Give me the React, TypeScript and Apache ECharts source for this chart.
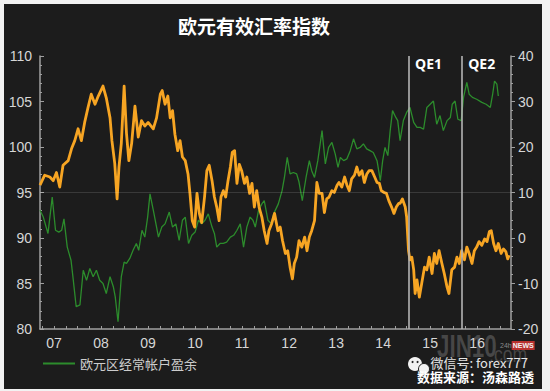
import React, { useEffect, useRef } from 'react';
import * as echarts from 'echarts';

// ---- data ----
const yearLabels = ['07', '08', '09', '10', '11', '12', '13', '14', '15', '16'];
const yearLabelPositions = [2007.5, 2008.5, 2009.5, 2010.5, 2011.5, 2012.5, 2013.5, 2014.5, 2015.5, 2016.5];
const quarterTickPositions: number[] = [];
for (let y = 2007.25; y <= 2017.01; y += 0.25) quarterTickPositions.push(Math.round(y * 100) / 100);

const seriesNames = ['欧元有效汇率指数', '欧元区经常帐户盈余'];

// Euro effective exchange rate index (left axis)
const eurIndex: [number, number][] = [
  [2007.20, 95.8], [2007.30, 96.9], [2007.41, 96.7], [2007.48, 96.3], [2007.55, 97.2], [2007.62, 95.6], [2007.69, 98.0], [2007.80, 98.5], [2007.87, 99.8], [2007.94, 100.7],
  [2008.01, 102.0], [2008.08, 100.7], [2008.15, 102.7], [2008.22, 104.3], [2008.29, 105.8], [2008.37, 104.7], [2008.44, 105.6], [2008.54, 106.7], [2008.61, 105.4], [2008.69, 103.2], [2008.73, 100.7], [2008.79, 98.2], [2008.84, 94.3], [2008.88, 97.8], [2008.93, 100.4], [2008.99, 106.7],
  [2009.04, 101.5], [2009.09, 98.5], [2009.15, 100.4], [2009.22, 104.5], [2009.29, 101.1], [2009.36, 102.9], [2009.43, 102.3], [2009.50, 102.7], [2009.61, 102.0], [2009.68, 103.2], [2009.76, 105.8], [2009.80, 106.2], [2009.86, 104.7], [2009.92, 105.6], [2009.97, 103.2],
  [2010.02, 104.0], [2010.07, 101.4], [2010.13, 99.6], [2010.18, 100.7], [2010.23, 98.9], [2010.29, 98.5], [2010.35, 97.0], [2010.39, 94.9], [2010.44, 91.9], [2010.49, 91.2], [2010.54, 94.9], [2010.59, 92.7], [2010.64, 91.7], [2010.70, 94.5], [2010.75, 97.4], [2010.80, 98.0], [2010.86, 96.3], [2010.91, 94.5], [2010.96, 93.4],
  [2011.01, 91.9], [2011.05, 94.5], [2011.10, 95.2], [2011.15, 94.5], [2011.20, 96.3], [2011.25, 97.8], [2011.29, 99.4], [2011.34, 99.6], [2011.39, 96.0], [2011.44, 98.1], [2011.49, 97.4], [2011.55, 96.0], [2011.60, 96.7], [2011.66, 94.9], [2011.71, 96.0], [2011.76, 93.4], [2011.81, 95.2], [2011.86, 93.4], [2011.92, 92.3], [2011.97, 90.8],
  [2012.03, 89.4], [2012.07, 90.8], [2012.13, 91.6], [2012.19, 92.7], [2012.26, 90.8], [2012.31, 91.2], [2012.36, 89.7], [2012.42, 88.3], [2012.47, 88.6], [2012.52, 86.8], [2012.57, 85.5], [2012.61, 87.2], [2012.66, 87.9], [2012.71, 89.7], [2012.77, 89.0], [2012.83, 90.1], [2012.88, 88.6], [2012.93, 90.1], [2012.98, 90.8],
  [2013.04, 91.9], [2013.09, 96.1], [2013.14, 94.9], [2013.20, 94.9], [2013.25, 92.8], [2013.30, 94.3], [2013.35, 94.5], [2013.41, 95.2], [2013.46, 95.0], [2013.52, 95.8], [2013.56, 96.1], [2013.62, 95.6], [2013.68, 96.7], [2013.73, 95.8], [2013.78, 95.2], [2013.83, 96.5], [2013.89, 96.9], [2013.94, 97.8], [2013.99, 96.9],
  [2014.05, 97.4], [2014.10, 96.1], [2014.15, 97.0], [2014.20, 97.4], [2014.26, 97.4], [2014.32, 96.7], [2014.37, 96.1], [2014.42, 96.0], [2014.46, 95.2], [2014.52, 95.0], [2014.57, 94.9], [2014.62, 94.1], [2014.68, 93.4], [2014.73, 92.7], [2014.78, 93.4], [2014.83, 93.8], [2014.86, 93.8], [2014.91, 94.3], [2014.97, 93.4],
  [2015.00, 92.3], [2015.04, 88.6], [2015.07, 87.6], [2015.11, 87.9], [2015.15, 86.5], [2015.18, 83.9], [2015.22, 85.4], [2015.27, 83.5], [2015.32, 85.0], [2015.38, 86.8], [2015.43, 86.5], [2015.48, 87.9], [2015.54, 86.1], [2015.59, 88.3], [2015.64, 87.2], [2015.69, 88.6], [2015.75, 87.2], [2015.80, 86.1], [2015.86, 84.6], [2015.90, 83.9], [2015.96, 86.5],
  [2016.02, 86.8], [2016.07, 87.9], [2016.12, 87.2], [2016.17, 88.6], [2016.23, 87.6], [2016.28, 89.0], [2016.33, 88.3], [2016.39, 87.2], [2016.44, 88.6], [2016.49, 89.0], [2016.54, 89.6], [2016.60, 89.2], [2016.66, 89.9], [2016.71, 89.6], [2016.76, 90.7], [2016.80, 90.8], [2016.85, 89.4], [2016.90, 88.6], [2016.95, 89.4],
  [2017.01, 88.3], [2017.06, 88.8], [2017.11, 88.5], [2017.15, 87.7], [2017.18, 88.1],
];

// Euro area current account surplus (right axis)
const currentAccount: [number, number][] = [
  [2007.20, 6.1], [2007.27, 4.6], [2007.37, 1.0], [2007.46, 9.0], [2007.53, 1.7], [2007.60, 1.3], [2007.66, 1.7], [2007.71, 4.2], [2007.78, -2.0], [2007.86, -4.9], [2007.90, -8.5], [2007.97, -15.1],
  [2008.05, -14.7], [2008.12, -7.1], [2008.19, -9.3], [2008.26, -6.7], [2008.33, -8.5], [2008.40, -7.1], [2008.47, -9.3], [2008.54, -10.0], [2008.61, -12.2], [2008.69, -8.5], [2008.76, -10.7], [2008.80, -12.9], [2008.86, -18.4], [2008.93, -8.5], [2008.99, -5.3],
  [2009.04, -5.6], [2009.11, -4.5], [2009.18, -2.7], [2009.25, -1.2], [2009.30, -2.7], [2009.37, 1.7], [2009.43, 0.2], [2009.49, 4.6], [2009.54, 9.7], [2009.61, 6.1], [2009.68, 2.4], [2009.72, 0.2], [2009.79, 2.4], [2009.86, 3.1], [2009.95, 5.7],
  [2010.02, 2.4], [2010.09, 3.1], [2010.16, -0.5], [2010.23, 3.9], [2010.29, 4.6], [2010.36, -1.2], [2010.43, 0.6], [2010.50, 1.3], [2010.57, 3.9], [2010.64, 3.1], [2010.71, 3.9], [2010.78, 5.3], [2010.86, 2.4], [2010.91, 1.0], [2010.96, -2.0],
  [2011.03, -1.2], [2011.10, -1.2], [2011.17, -0.9], [2011.25, 0.2], [2011.32, 0.6], [2011.39, 1.7], [2011.46, 3.1], [2011.53, -2.0], [2011.60, 2.4], [2011.67, 4.6], [2011.73, 3.9], [2011.78, 2.4], [2011.85, 6.1], [2011.92, 7.5], [2011.97, 8.2],
  [2012.05, 3.9], [2012.12, 3.1], [2012.17, 5.3], [2012.27, 7.5], [2012.35, 10.4], [2012.40, 13.3], [2012.46, 17.7], [2012.52, 14.1], [2012.59, 14.4], [2012.66, 14.1], [2012.71, 12.3], [2012.78, 8.2], [2012.86, 13.3], [2012.93, 17.0], [2012.98, 14.8],
  [2013.04, 13.3], [2013.11, 17.0], [2013.20, 23.6], [2013.27, 16.3], [2013.34, 19.9], [2013.41, 21.0], [2013.48, 18.5], [2013.54, 15.5], [2013.59, 17.7], [2013.66, 17.0], [2013.73, 17.4], [2013.80, 19.2], [2013.87, 21.8], [2013.94, 19.6],
  [2014.01, 19.9], [2014.08, 20.7], [2014.15, 19.6], [2014.22, 19.2], [2014.29, 18.8], [2014.37, 17.0], [2014.44, 12.6], [2014.49, 17.0], [2014.54, 19.9], [2014.60, 18.1], [2014.65, 23.6], [2014.70, 28.0], [2014.77, 26.5], [2014.81, 25.8], [2014.86, 21.4], [2014.93, 25.8],
  [2015.00, 27.6], [2015.07, 28.7], [2015.15, 25.4], [2015.22, 24.3], [2015.29, 24.3], [2015.36, 23.9], [2015.43, 28.7], [2015.50, 29.4], [2015.57, 30.1], [2015.64, 25.0], [2015.71, 26.9], [2015.78, 23.6], [2015.86, 25.8], [2015.93, 26.5], [2015.97, 29.4],
  [2016.03, 30.1], [2016.09, 26.1], [2016.16, 25.8], [2016.21, 30.9], [2016.28, 34.2], [2016.33, 31.6], [2016.40, 30.9], [2016.49, 30.5], [2016.60, 29.8], [2016.69, 29.4], [2016.78, 28.7], [2016.83, 31.6], [2016.87, 34.5], [2016.92, 33.8], [2016.95, 31.2],
];

const qeEvents = [
  { name: 'QE1', x: 2015.04 },
  { name: 'QE2', x: 2016.17 },
];
const referenceLevel = 95;

const AXIS_FONT = 'Liberation Sans, Arial, sans-serif';
const CJK_FONT = '"Noto Sans CJK SC", sans-serif';

export default function App() {
  const ref = useRef<HTMLDivElement>(null);

  useEffect(() => {
    document.body.style.margin = '0';
    if (!ref.current) return;
    const chart = echarts.init(ref.current, undefined, { renderer: 'svg' });
    const axisColor = '#a0a0a0';
    const labelColor = '#d6d6d6';

    chart.setOption({
      animation: false,
      backgroundColor: 'transparent',
      title: {
        text: '欧元有效汇率指数',
        left: 178,
        top: 16,
        padding: 0,
        textStyle: { color: '#ffffff', fontSize: 19, fontWeight: 'bold', fontFamily: CJK_FONT },
      },
      legend: {
        data: [seriesNames[1]],
        left: 43,
        top: 357,
        padding: 0,
        icon: 'rect',
        itemWidth: 32,
        itemHeight: 2,
        textStyle: { color: '#cccccc', fontSize: 13, fontFamily: CJK_FONT },
      },
      grid: { left: 40, right: 39, top: 56, bottom: 62 },
      xAxis: {
        type: 'value',
        min: 2007.2,
        max: 2017.22,
        axisLine: { show: true, onZero: false, lineStyle: { color: axisColor, width: 1.5 } },
        axisTick: {
          show: true,
          inside: true,
          length: 3,
          customValues: quarterTickPositions,
          lineStyle: { color: axisColor },
        },
        axisLabel: {
          customValues: yearLabelPositions,
          formatter: (v: number) => yearLabels[yearLabelPositions.findIndex((p) => Math.abs(p - v) < 0.01)] ?? '',
          color: labelColor,
          fontSize: 14,
          fontFamily: AXIS_FONT,
          margin: 7,
        },
        splitLine: { show: false },
      },
      yAxis: [
        {
          type: 'value',
          position: 'left',
          min: 80,
          max: 110,
          interval: 5,
          axisLine: { show: true, onZero: false, lineStyle: { color: axisColor, width: 1.5 } },
          axisTick: { show: true, inside: true, length: 4, lineStyle: { color: axisColor } },
          minorTick: { show: true, splitNumber: 5, length: 2, lineStyle: { color: axisColor } },
          axisLabel: { color: labelColor, fontSize: 14, fontFamily: AXIS_FONT, margin: 8 },
          splitLine: { show: false },
        },
        {
          type: 'value',
          position: 'right',
          min: -20,
          max: 40,
          interval: 10,
          axisLine: { show: true, onZero: false, lineStyle: { color: axisColor, width: 1.5 } },
          axisTick: { show: true, inside: false, length: 4, lineStyle: { color: axisColor } },
          minorTick: { show: true, splitNumber: 5, length: 2, lineStyle: { color: axisColor } },
          axisLabel: { color: labelColor, fontSize: 14, fontFamily: AXIS_FONT, margin: 7 },
          splitLine: { show: false },
        },
      ],
      series: [
        {
          name: seriesNames[1],
          type: 'line',
          yAxisIndex: 1,
          data: currentAccount,
          symbol: 'none',
          lineStyle: { color: '#2c8c2c', width: 1.3 },
          itemStyle: { color: '#2c8c2c' },
          z: 2,
        },
        {
          name: seriesNames[0],
          type: 'line',
          yAxisIndex: 0,
          data: eurIndex,
          symbol: 'none',
          lineStyle: { color: '#f7a523', width: 2.8, join: 'round' },
          itemStyle: { color: '#f7a523' },
          z: 3,
          markLine: {
            silent: true,
            symbol: 'none',
            animation: false,
            label: { show: false },
            data: [
              { yAxis: referenceLevel, lineStyle: { color: 'rgba(255,255,255,0.13)', width: 1, type: 'solid' } },
              ...qeEvents.map((e) => ({
                xAxis: e.x,
                lineStyle: { color: '#b4b4b4', width: 1.6, type: 'solid' },
              })),
            ],
          },
          markPoint: {
            silent: true,
            symbol: 'circle',
            symbolSize: 1,
            itemStyle: { color: 'rgba(0,0,0,0)' },
            label: {
              show: true,
              position: 'right',
              distance: 6,
              offset: [0, 7],
              color: '#ffffff',
              fontSize: 14,
              fontWeight: 'bold',
              fontFamily: '"Open Sans", sans-serif',
              formatter: (p: any) => p.name,
            },
            data: qeEvents.map((e) => ({ name: e.name, coord: [e.x, 110] })),
          },
        },
      ],
      graphic: [
        {
          type: 'text',
          x: 437,
          y: 330,
          silent: true,
          scaleX: 0.7,
          style: { text: 'JIN10', fill: 'rgba(200,200,200,0.25)', font: 'bold 32px "Liberation Sans", Arial' },
        },
        {
          type: 'text',
          x: 489,
          y: 343,
          silent: true,
          scaleX: 0.8,
          style: { text: '.com', fill: 'rgba(200,200,200,0.25)', font: '22px "Liberation Sans", Arial' },
        },
        {
          type: 'text',
          x: 500,
          y: 341,
          silent: true,
          style: {
            text: '{a|24h}{b|NEWS}',
            rich: {
              a: { fill: '#8a8a8a', fontSize: 7, fontFamily: AXIS_FONT },
              b: { fill: '#f3f3f3', fontSize: 7, fontWeight: 'bold', fontFamily: AXIS_FONT, backgroundColor: '#b8312f', padding: [1, 1] },
            },
          },
        },
        { type: 'circle', shape: { cx: 415, cy: 364, r: 7 }, style: { fill: '#f2f2f2' }, silent: true },
        { type: 'circle', shape: { cx: 424, cy: 369, r: 5.5 }, style: { fill: '#f2f2f2', stroke: '#1d1d1d', lineWidth: 1 }, silent: true },
        { type: 'circle', shape: { cx: 412.5, cy: 362, r: 1 }, style: { fill: '#1d1d1d' }, silent: true },
        { type: 'circle', shape: { cx: 417.5, cy: 362, r: 1 }, style: { fill: '#1d1d1d' }, silent: true },
        {
          type: 'text',
          x: 528,
          y: 362,
          silent: true,
          style: {
            text: '微信号: forex777',
            fill: '#e6e6e6',
            font: '13px "Noto Sans CJK SC", sans-serif',
            align: 'right',
            verticalAlign: 'middle',
          },
        },
        {
          type: 'text',
          x: 534,
          y: 376,
          silent: true,
          style: {
            text: '数据来源：汤森路透',
            fill: '#ffffff',
            font: 'bold 13px "Noto Sans CJK SC", sans-serif',
            align: 'right',
            verticalAlign: 'middle',
          },
        },
      ],
    });

    return () => chart.dispose();
  }, []);

  return (
    <div style={{ position: 'relative', width: 550, height: 391, background: '#f2f2f2', overflow: 'hidden' }}>
      <div style={{ position: 'absolute', left: 4, top: 4, width: 538, height: 385, background: '#1c1c1c' }} />
      <div ref={ref} style={{ position: 'absolute', left: 0, top: 0, width: 550, height: 391 }} />
    </div>
  );
}
